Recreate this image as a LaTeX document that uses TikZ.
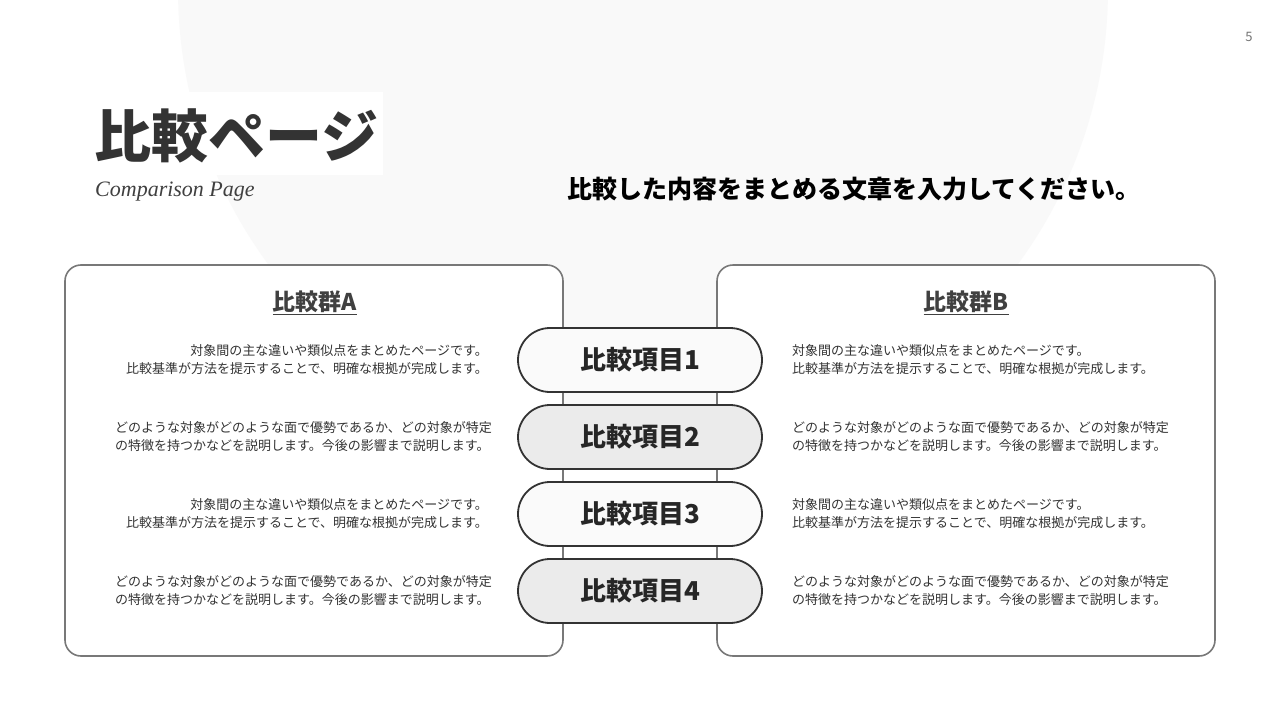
\documentclass[tikz,border=0pt]{standalone}
\usepackage{fontspec}
\setmainfont{Noto Sans CJK JP}
\newfontfamily\jpb{Noto Sans CJK JP}[FakeBold=0]
\newfontfamily\serifit{Liberation Serif}
\begin{document}
\begin{tikzpicture}[x=1pt,y=-1pt,
  panel/.style={draw=black!53,line width=1.6pt,rounded corners=16pt,fill=white},
  pill/.style={draw=black!80,line width=1.8pt,rounded corners=32pt,minimum width=244pt,minimum height=64pt,font=\fontsize{26}{30}\selectfont\bfseries,text=black!85},
  body/.style={font=\fontsize{13}{18}\selectfont,text=black!80,inner sep=0pt},
  head/.style={font=\fontsize{23}{26}\selectfont\bfseries,text=black!75,inner sep=0pt}]
\useasboundingbox (0,0) rectangle (1280,720);
\fill[white] (0,0) rectangle (1280,720);
\begin{scope}
\clip (0,0) rectangle (1280,720);
\fill[black!2.5] (643,-11) circle (465);
\end{scope}
\node[fill=white,minimum width=295pt,minimum height=83pt,anchor=north west,inner sep=0pt] (tbg) at (88,92) {};
\node[anchor=west,inner sep=0pt,font=\fontsize{57}{60}\selectfont\bfseries,text=black!80] (title) at (94,136) {比較ページ};
\node[anchor=west,inner sep=0pt,font=\serifit\itshape\fontsize{22}{24}\selectfont,text=black!75] (sub) at (95,192) {Comparison Page};
\node[anchor=west,inner sep=0pt,font=\fontsize{25}{28}\selectfont\bfseries,text=black] (lead) at (567,189) {比較した内容をまとめる文章を入力してください。};
\node[font=\fontsize{13}{14}\selectfont,text=black!55] (pg) at (1249,37) {5};
\draw[panel] (65,265) rectangle (563,656);
\draw[panel] (717,265) rectangle (1215,656);
\node[head] (ha) at (315,303) {\underline{比較群A}};
\node[head] (hb) at (966,303) {\underline{比較群B}};
\foreach \y/\f [count=\i] in {360/black!2,437/black!8,514/black!2,591/black!8}
  \node[pill,fill=\f] (p\i) at (640,\y) {比較項目\i};
\foreach \y [count=\i] in {360,514}{
  \node[body,anchor=east,align=right] (la\i) at (488,\y) {対象間の主な違いや類似点をまとめたページです。\\比較基準が方法を提示することで、明確な根拠が完成します。};
  \node[body,anchor=west,align=left] (ra\i) at (792,\y) {対象間の主な違いや類似点をまとめたページです。\\比較基準が方法を提示することで、明確な根拠が完成します。};
}
\foreach \y [count=\i] in {437,591}{
  \node[body,anchor=east,align=left] (lb\i) at (492,\y) {どのような対象がどのような面で優勢であるか、どの対象が特定\\の特徴を持つかなどを説明します。今後の影響まで説明します。};
  \node[body,anchor=west,align=left] (rb\i) at (792,\y) {どのような対象がどのような面で優勢であるか、どの対象が特定\\の特徴を持つかなどを説明します。今後の影響まで説明します。};
}
\end{tikzpicture}
\end{document}
